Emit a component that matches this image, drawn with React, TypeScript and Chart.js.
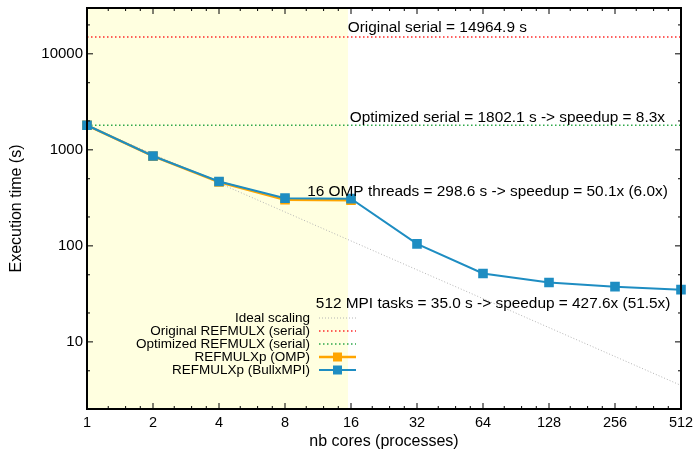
import React, { useEffect, useRef } from 'react';
import { Chart, registerables } from 'chart.js';

Chart.register(...registerables);

// ---------- data ----------
const coreLabels = ['1', '2', '4', '8', '16', '32', '64', '128', '256', '512'];
const idealScaling = [1802.1, 901.1, 450.5, 225.3, 112.6, 56.3, 28.2, 14.08, 7.04, 3.52];
const originalSerial = [14964.9, 14964.9, 14964.9, 14964.9, 14964.9, 14964.9, 14964.9, 14964.9, 14964.9, 14964.9];
const optimizedSerial = [1802.1, 1802.1, 1802.1, 1802.1, 1802.1, 1802.1, 1802.1, 1802.1, 1802.1, 1802.1];
const ompTimes = [1802.1, 858, 462, 303, 298.6];
const mpiTimes = [1802.1, 862, 468, 314, 310, 105, 51.5, 41.5, 37.6, 35.0];
const yMajorTicks = [10, 100, 1000, 10000];
const yMinorTicks = [2, 5, 20, 50, 200, 500, 2000, 5000, 20000];
const ompRegionEnd = 15.5;
const seriesNames = [
  'Ideal scaling',
  'Original REFMULX (serial)',
  'Optimized REFMULX (serial)',
  'REFMULXp (OMP)',
  'REFMULXp (BullxMPI)',
];
const noteTexts = [
  'Original serial = 14964.9 s',
  'Optimized serial = 1802.1 s -> speedup = 8.3x',
  '16 OMP threads = 298.6 s -> speedup = 50.1x (6.0x)',
  '512 MPI tasks = 35.0 s -> speedup = 427.6x (51.5x)',
];

const FONT = '"Liberation Sans", Arial, Helvetica, sans-serif';
const COLORS = {
  ideal: '#b4b4b4',
  original: '#ff2a2a',
  optimized: '#2ea84a',
  omp: '#ffa500',
  mpi: '#1e8dc2',
  shade: '#ffffe0',
};

const gnuplotPlugin = {
  id: 'gnuplotDecor',
  beforeDatasetsDraw(chart: any) {
    const { ctx, chartArea: a, scales } = chart;
    const x = scales.x;
    const x0 = x.getPixelForValue(0);
    const x1 = x.getPixelForValue(Math.log2(ompRegionEnd));
    ctx.save();
    ctx.fillStyle = COLORS.shade;
    ctx.fillRect(x0, a.top, x1 - x0, a.bottom - a.top);
    ctx.restore();
  },
  afterDatasetsDraw(chart: any) {
    const { ctx, chartArea: a, scales } = chart;
    const x = scales.x;
    const y = scales.y;
    ctx.save();
    ctx.strokeStyle = '#000';
    ctx.lineWidth = 1;
    const tick = (px: number, len: number) => {
      ctx.beginPath();
      ctx.moveTo(px, a.bottom);
      ctx.lineTo(px, a.bottom - len);
      ctx.moveTo(px, a.top);
      ctx.lineTo(px, a.top + len);
      ctx.stroke();
    };
    for (let i = 0; i < coreLabels.length; i++) {
      tick(x.getPixelForValue(i), 6);
      if (i < coreLabels.length - 1) {
        for (let j = 1; j < 4; j++) {
          tick(x.getPixelForValue(i + Math.log2(1 + j / 4)), 3);
        }
      }
    }
    const ytick = (v: number, len: number) => {
      const py = y.getPixelForValue(v);
      ctx.beginPath();
      ctx.moveTo(a.left, py);
      ctx.lineTo(a.left + len, py);
      ctx.moveTo(a.right, py);
      ctx.lineTo(a.right - len, py);
      ctx.stroke();
    };
    yMajorTicks.forEach((v) => ytick(v, 6));
    yMinorTicks.forEach((v) => ytick(v, 3));
    ctx.lineWidth = 2;
    ctx.strokeRect(a.left, a.top, a.right - a.left, a.bottom - a.top);

    // annotations
    ctx.fillStyle = '#000';
    ctx.font = `15.4px ${FONT}`;
    ctx.textBaseline = 'middle';
    ctx.textAlign = 'left';
    ctx.fillText(noteTexts[0], x.getPixelForValue(3.95), y.getPixelForValue(18600));
    ctx.fillText(noteTexts[1], x.getPixelForValue(3.98), y.getPixelForValue(2140));
    ctx.textAlign = 'right';
    ctx.fillText(noteTexts[2], x.getPixelForValue(8.8), y.getPixelForValue(368));
    ctx.fillText(noteTexts[3], x.getPixelForValue(8.84), y.getPixelForValue(24.8));

    // key
    const ds = chart.data.datasets;
    const textRight = a.left + 223;
    const sx0 = a.left + 232;
    const sx1 = a.left + 269;
    ctx.font = `13.5px ${FONT}`;
    ctx.textAlign = 'right';
    for (let i = 0; i < seriesNames.length; i++) {
      const ry = a.top + 310 + i * 13;
      ctx.fillStyle = '#000';
      ctx.fillText(seriesNames[i], textRight, ry);
      const d = ds[i];
      ctx.strokeStyle = d.borderColor;
      ctx.lineWidth = d.borderWidth;
      ctx.setLineDash(d.borderDash || []);
      ctx.beginPath();
      ctx.moveTo(sx0, ry);
      ctx.lineTo(sx1, ry);
      ctx.stroke();
      ctx.setLineDash([]);
      if (d.pointRadius > 0) {
        ctx.fillStyle = d.borderColor;
        ctx.fillRect((sx0 + sx1) / 2 - 4.5, ry - 4.5, 9, 9);
      }
    }
    ctx.restore();
  },
};

export default function App() {
  const ref = useRef<HTMLCanvasElement | null>(null);
  useEffect(() => {
    if (!ref.current) return;
    const chart = new Chart(ref.current, {
      type: 'line',
      data: {
        labels: coreLabels,
        datasets: [
          {
            label: seriesNames[0],
            data: idealScaling,
            borderColor: COLORS.ideal,
            borderWidth: 1,
            borderDash: [1, 2],
            pointRadius: 0,
            order: 4,
          },
          {
            label: seriesNames[1],
            data: originalSerial,
            borderColor: COLORS.original,
            borderWidth: 1.5,
            borderDash: [1.5, 2.5],
            pointRadius: 0,
            order: 3,
          },
          {
            label: seriesNames[2],
            data: optimizedSerial,
            borderColor: COLORS.optimized,
            borderWidth: 1.5,
            borderDash: [1.5, 2.5],
            pointRadius: 0,
            order: 2,
          },
          {
            label: seriesNames[3],
            data: ompTimes,
            borderColor: COLORS.omp,
            backgroundColor: COLORS.omp,
            borderWidth: 2.5,
            pointStyle: 'rect',
            pointRadius: 6.8,
            pointBorderWidth: 0,
            pointBackgroundColor: COLORS.omp,
            order: 1,
          },
          {
            label: seriesNames[4],
            data: mpiTimes,
            borderColor: COLORS.mpi,
            backgroundColor: COLORS.mpi,
            borderWidth: 2,
            pointStyle: 'rect',
            pointRadius: 6.8,
            pointBorderWidth: 0,
            pointBackgroundColor: COLORS.mpi,
            order: 0,
          },
        ],
      },
      options: {
        responsive: false,
        animation: false,
        events: [],
        layout: { padding: { left: 0, right: 12, top: 8, bottom: 0 } },
        plugins: { legend: { display: false }, tooltip: { enabled: false } },
        elements: { line: { tension: 0 } },
        scales: {
          x: {
            type: 'category',
            offset: false,
            grid: { display: false, drawTicks: false },
            border: { display: false },
            ticks: {
              color: '#000',
              font: { family: FONT, size: 14.5 },
              padding: 5,
              maxRotation: 0,
              autoSkip: false,
            },
            title: {
              display: true,
              text: 'nb cores (processes)',
              color: '#000',
              font: { family: FONT, size: 16 },
              padding: { top: 0, bottom: 0 },
            },
            afterFit: (s: any) => {
              s.height = 42;
              s.paddingLeft = 0;
              s.paddingRight = 0;
            },
          },
          y: {
            type: 'logarithmic',
            min: 2,
            max: 30000,
            grid: { display: false, drawTicks: false },
            border: { display: false },
            afterBuildTicks: (s: any) => {
              s.ticks = yMajorTicks.map((v) => ({ value: v }));
            },
            ticks: {
              color: '#000',
              font: { family: FONT, size: 15 },
              padding: 4,
              callback: (v: any) => String(v),
            },
            title: {
              display: true,
              text: 'Execution time (s)',
              color: '#000',
              font: { family: FONT, size: 16 },
              padding: { top: 7, bottom: 0 },
            },
            afterFit: (s: any) => {
              s.width = 87;
              s.paddingTop = 0;
              s.paddingBottom = 0;
            },
          },
        },
      },
      plugins: [gnuplotPlugin],
    });
    return () => chart.destroy();
  }, []);
  return (
    <div style={{ position: 'absolute', left: 0, top: 0, width: 693, height: 451 }}>
      <canvas ref={ref} width={693} height={451} />
    </div>
  );
}
